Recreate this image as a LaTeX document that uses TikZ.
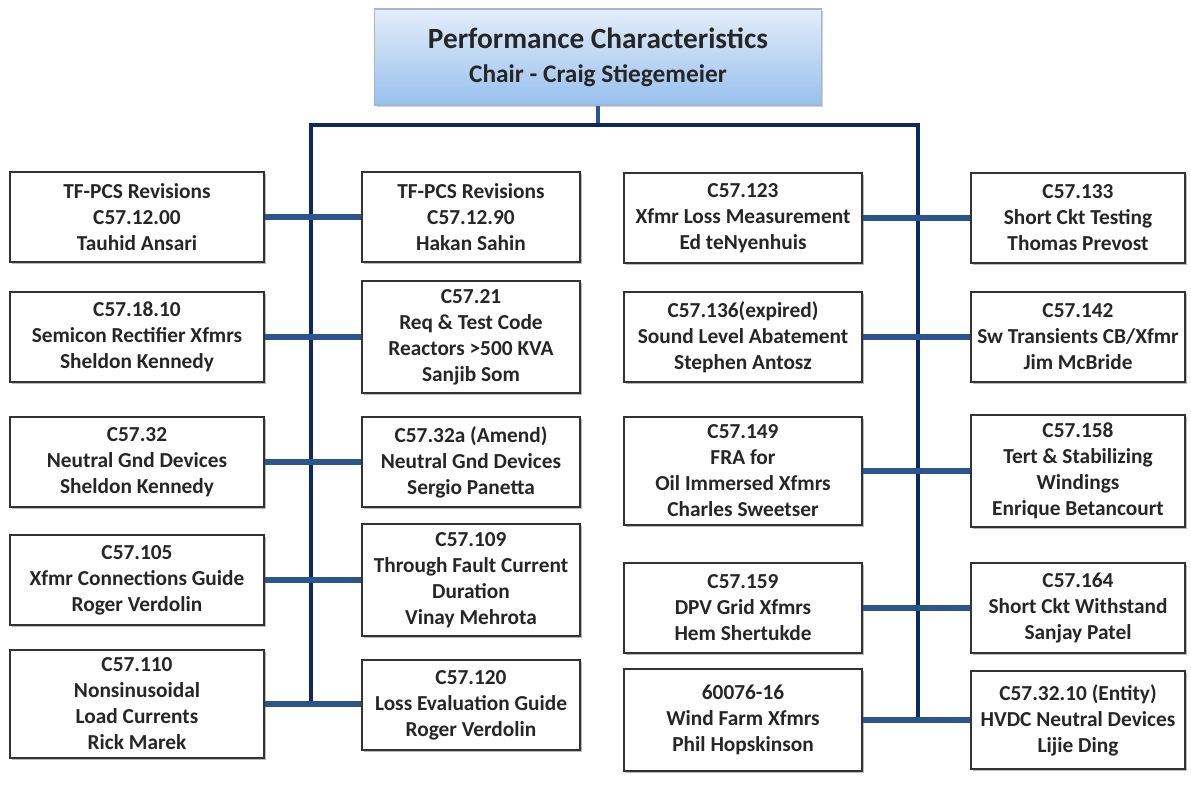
\documentclass[tikz,border=0pt]{standalone}
\usepackage{fontspec}
\setmainfont{Carlito}
\usetikzlibrary{shadows}
\definecolor{busblue}{RGB}{14,40,98}
\definecolor{linkblue}{RGB}{44,84,142}
\definecolor{headtop}{RGB}{228,237,250}
\definecolor{headbot}{RGB}{152,192,238}
\definecolor{headedge}{RGB}{165,182,208}
\begin{document}
\begin{tikzpicture}[x=0.75pt,y=-0.75pt,
    box/.style={draw=black!80, line width=1.3pt, fill=white, align=center,
      font=\fontsize{16}{19.5}\selectfont\bfseries, text=black!85,
      drop shadow={shadow xshift=1.5pt, shadow yshift=-1.5pt, fill=black!45, opacity=0.6},
      minimum height=67pt, inner xsep=2pt, inner ysep=6pt},
    colA/.style={box, minimum width=191pt},
    colB/.style={box, minimum width=163pt},
    colC/.style={box, minimum width=178pt},
    colD/.style={box, minimum width=160pt},
    head/.style={draw=headedge, line width=0.8pt, top color=headtop, bottom color=headbot,
      align=center, text=black!85, minimum width=335pt, minimum height=72pt,
      drop shadow={shadow xshift=1.5pt, shadow yshift=-1.5pt, fill=black!35, opacity=0.5}},
    bus/.style={draw=busblue, line width=3.5pt},
    link/.style={draw=linkblue, line width=4pt}]
  \useasboundingbox (0,0) rectangle (1191,789);
  % chair
  \node[head] (chair) at (598,57) {\fontsize{22}{26}\selectfont\bfseries Performance Characteristics\\[11pt]
    \fontsize{19}{24}\selectfont\bfseries Chair - Craig Stiegemeier};
  % left pairs
  \node[colA] (pcs00) at (137,217) {TF-PCS Revisions\\C57.12.00\\Tauhid Ansari};
  \node[colB] (pcs90) at (471,217) {TF-PCS Revisions\\C57.12.90\\Hakan Sahin};
  \node[colA] (c1810) at (137,337) {C57.18.10\\Semicon Rectifier Xfmrs\\Sheldon Kennedy};
  \node[colB] (c21)   at (471,337) {C57.21\\Req \& Test Code\\Reactors >500 KVA\\Sanjib Som};
  \node[colA] (c32)   at (137,462) {C57.32\\Neutral Gnd Devices\\Sheldon Kennedy};
  \node[colB] (c32a)  at (471,462) {C57.32a (Amend)\\Neutral Gnd Devices\\Sergio Panetta};
  \node[colA] (c105)  at (137,580) {C57.105\\Xfmr Connections Guide\\Roger Verdolin};
  \node[colB] (c109)  at (471,580) {C57.109\\Through Fault Current\\Duration\\Vinay Mehrota};
  \node[colA] (c110)  at (137,704) {C57.110\\Nonsinusoidal\\Load Currents\\Rick Marek};
  \node[colB] (c120)  at (471,705) {C57.120\\Loss Evaluation Guide\\Roger Verdolin};
  % right pairs
  \node[colC] (c123)  at (743,218) {C57.123\\Xfmr Loss Measurement\\Ed teNyenhuis};
  \node[colD] (c133)  at (1078,218) {C57.133\\Short Ckt Testing\\Thomas Prevost};
  \node[colC] (c136)  at (743,337) {C57.136(expired)\\Sound Level Abatement\\Stephen Antosz};
  \node[colD] (c142)  at (1078,337) {C57.142\\Sw Transients CB/Xfmr\\Jim McBride};
  \node[colC] (c149)  at (743,471) {C57.149\\FRA for\\Oil Immersed Xfmrs\\Charles Sweetser};
  \node[colD] (c158)  at (1078,471) {C57.158\\Tert \& Stabilizing\\Windings\\Enrique Betancourt};
  \node[colC] (c159)  at (743,608) {C57.159\\DPV Grid Xfmrs\\Hem Shertukde};
  \node[colD] (c164)  at (1078,608) {C57.164\\Short Ckt Withstand\\Sanjay Patel};
  \node[colC, minimum height=76pt] (c6076) at (743,720) {60076-16\\Wind Farm Xfmrs\\Phil Hopskinson};
  \node[colD, minimum height=74pt] (c3210) at (1078,720) {C57.32.10 (Entity)\\HVDC Neutral Devices\\Lijie Ding};
  % buses
  \coordinate (hubL) at (311,125);
  \coordinate (hubR) at (918,125);
  \coordinate (endL) at (311,704);
  \coordinate (endR) at (918,720);
  \draw[link, line width=3pt] (chair.south) -- (chair.south |- hubL);
  \draw[bus] (endL) -- (hubL) -- (hubR) -- (endR);
  % links
  \draw[link] (pcs00) -- (pcs90);
  \draw[link] (c1810) -- (c21);
  \draw[link] (c32) -- (c32a);
  \draw[link] (c105) -- (c109);
  \draw[link] (c110) -- (c110 -| c120.west);
  \draw[link] (c123) -- (c133);
  \draw[link] (c136) -- (c142);
  \draw[link] (c149) -- (c158);
  \draw[link] (c159) -- (c164);
  \draw[link] (c6076) -- (c3210);
\end{tikzpicture}
\end{document}
